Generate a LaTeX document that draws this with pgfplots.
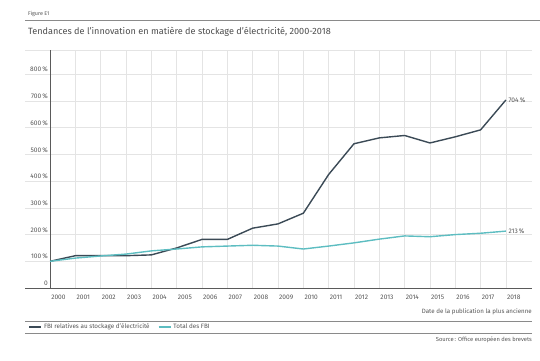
\documentclass[border=0pt]{standalone}
\usepackage{pgfplots}
\pgfplotsset{compat=1.18}
\usepackage{fontspec}
\setmainfont{Fira Sans}
\definecolor{darkser}{HTML}{3B4A56}
\definecolor{tealser}{HTML}{5DBDC1}
\definecolor{gridc}{HTML}{E4E4E4}
\definecolor{axc}{HTML}{5A5A5A}
\definecolor{txt}{HTML}{555555}
\definecolor{rulec}{HTML}{8A8A8A}
\begin{document}
\begin{tikzpicture}[x=1pt,y=-1pt]
\path[use as bounding box] (0,0) rectangle (540,360);
\node[anchor=west, inner sep=0pt, font=\fontsize{5.4}{6}\selectfont, text=txt] at (28,14) {Figure E1};
\draw[rulec, line width=0.5pt] (25,20) -- (540,20);
\node[anchor=west, inner sep=0pt, font=\fontsize{9.1}{10}\selectfont, text=txt!90!black] at (28,32) {Tendances de l’innovation en matière de stockage d’électricité, 2000-2018};
\begin{axis}[
  at={(25pt,-288pt)}, anchor=south west,
  scale only axis, width=507pt, height=238pt,
  xmin=1999.01, xmax=2019.03, ymin=0, ymax=891,
  axis line style={draw=none},
  xtick={2000,2001,...,2018},
  ytick={0,100,...,800},
  yticklabels={0,100\,\%,200\,\%,300\,\%,400\,\%,500\,\%,600\,\%,700\,\%,800\,\%},
  x tick label style={/pgf/number format/1000 sep={}},
  xticklabel style={anchor=north west, inner sep=0pt, xshift=1pt, yshift=-7pt, font=\fontsize{6.6}{7}\selectfont, text=txt},
  yticklabel style={anchor=south east, inner sep=0pt, xshift=23pt, yshift=2pt, font=\fontsize{6.6}{7}\selectfont, text=txt},
  /pgf/number format/assume math mode=true,
  major tick length=0pt,
  grid=major,
  major grid style={gridc, line width=0.6pt},
  clip=false,
  legend style={at={(0.006,-0.1639)}, anchor=west, draw=none, fill=none, inner sep=0pt,
    font=\fontsize{6.3}{7}\selectfont, text=txt,
    /tikz/every even column/.append style={column sep=6pt}},
  legend columns=2,
  legend image code/.code={\draw[#1, line width=1.8pt] (0pt,0pt) -- (12pt,0pt);},
]
\draw[gridc, line width=0.6pt] (rel axis cs:0,1) -- (rel axis cs:1,1);
\draw[axc, line width=0.9pt] (rel axis cs:0,0) -- (rel axis cs:1,0);
\draw[axc, line width=0.9pt] (axis cs:2000,0) -- (axis cs:2000,891);
\addplot[darkser, line width=1.4pt] coordinates {
(2000,100) (2001,121) (2002,121) (2003,121) (2004,124) (2005,150) (2006,182) (2007,182)
(2008,224) (2009,240) (2010,280) (2011,425) (2012,540) (2013,562) (2014,571)
(2015,543) (2016,566) (2017,592) (2018,704)};
\addlegendentry{FBI relatives au stockage d’électricité}
\addplot[tealser, line width=1.4pt] coordinates {
(2000,100) (2001,112) (2002,120) (2003,127) (2004,139) (2005,146) (2006,154) (2007,157)
(2008,160) (2009,157) (2010,146) (2011,157) (2012,169) (2013,183) (2014,195)
(2015,192) (2016,200) (2017,205) (2018,213)};
\addlegendentry{Total des FBI}
\node[anchor=west, inner sep=0pt, font=\fontsize{6.6}{7}\selectfont, text=txt] at (axis cs:2018,704) {\hspace{2.5pt}704\,\%};
\node[anchor=west, inner sep=0pt, font=\fontsize{6.6}{7}\selectfont, text=txt] at (axis cs:2018,213) {\hspace{2.5pt}213\,\%};
\end{axis}
\node[anchor=east, inner sep=0pt, font=\fontsize{6.2}{7}\selectfont, text=txt] at (532,312) {Date de la publication la plus ancienne};
\draw[rulec, line width=0.5pt] (25,321) -- (532,321);
\draw[rulec, line width=0.5pt] (25,333) -- (532,333);
\node[anchor=east, inner sep=0pt, font=\fontsize{5.8}{6}\selectfont, text=txt] at (532,340) {Source\,: Office européen des brevets};
\end{tikzpicture}
\end{document}
